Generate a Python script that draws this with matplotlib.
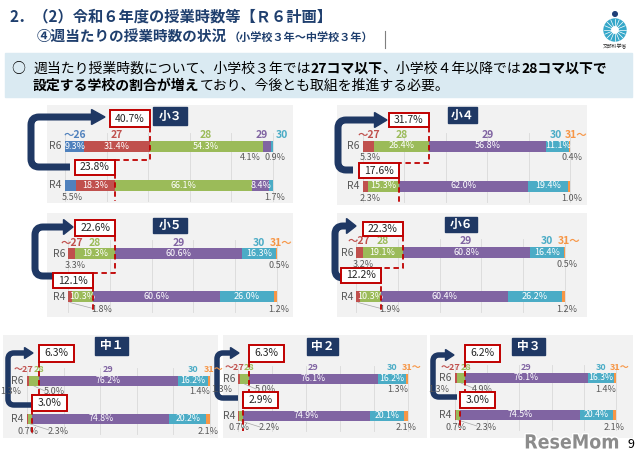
import matplotlib
matplotlib.use('Agg')
import matplotlib.pyplot as plt
from matplotlib.patches import Rectangle, Polygon, Circle, PathPatch
from matplotlib.path import Path
import matplotlib.patheffects as pe
import numpy as np

plt.rcParams['font.family'] = ['Noto Sans CJK JP', 'DejaVu Sans']

W, H = 640, 453

# ---------------- data ----------------
grades = ['小３', '小４', '小５', '小６', '中１', '中２', '中３']
cats_s3 = ['～26', '27', '28', '29', '30']
cats_rest = ['～27', '28', '29', '30', '31～']
years = ['R6', 'R4']
r6_s3 = [9.3, 31.4, 54.3, 4.1, 0.9]
r4_s3 = [5.5, 18.3, 66.1, 8.4, 1.7]
r6_s4 = [5.3, 26.4, 56.8, 11.1, 0.4]
r4_s4 = [2.3, 15.3, 62.0, 19.4, 1.0]
r6_s5 = [3.3, 19.3, 60.6, 16.3, 0.5]
r4_s5 = [1.8, 10.3, 60.6, 26.0, 1.2]
r6_s6 = [3.2, 19.1, 60.8, 16.4, 0.5]
r4_s6 = [1.9, 10.3, 60.4, 26.2, 1.2]
r6_j1 = [1.3, 5.0, 76.2, 16.2, 1.4]
r4_j1 = [0.7, 2.3, 74.8, 20.2, 2.1]
r6_j2 = [1.3, 5.0, 76.1, 16.2, 1.3]
r4_j2 = [0.7, 2.2, 74.9, 20.1, 2.1]
r6_j3 = [1.3, 4.9, 76.1, 16.3, 1.4]
r4_j3 = [0.7, 2.3, 74.5, 20.4, 2.1]

col_s3 = ['#4F81BD', '#C0504D', '#9BBB59', '#8064A2', '#4BACC6']
col_rest = ['#C0504D', '#9BBB59', '#8064A2', '#4BACC6', '#F79646']
NAVY = '#1F3864'
RED = '#C00000'
GRAY = '#595959'

# ---------------- layout (pixels) ----------------
layout = [
    dict(bg=(47, 105, 293, 203), bar=(65, 273), y6=146, y4=185, bh=11, title=(153, 107, 187, 125),
         top=(110, 127), mid=160, arrow=(31, 167, 70, 117, 92, 105), elem=True),
    dict(bg=(337, 105, 587, 205), bar=(363, 570), y6=146, y4=186, bh=11, title=(448, 107, 477, 123),
         top=(113, 127), mid=163, arrow=(338, 170, 353, 120, 375, 387), elem=True),
    dict(bg=(47, 213, 293, 317), bar=(68, 277), y6=254, y4=297, bh=11, title=(153, 218, 187, 233),
         top=(220, 236), mid=273, arrow=(35, 276, 53, 227, 64, 73), elem=True),
    dict(bg=(337, 213, 587, 317), bar=(356, 565), y6=253, y4=297, bh=11, title=(445, 217, 477, 232),
         top=(222, 236), mid=268, arrow=(335, 278, 343, 226, 347, 356), elem=True),
    dict(bg=(3, 335, 218, 438), bar=(27, 210), y6=381, y4=419, bh=10, title=(95, 337, 128, 355),
         top=(345, 362), mid=395, arrow=(8, 405, 32, 353, 25, 33), elem=False),
    dict(bg=(223, 335, 427, 438), bar=(238, 408), y6=379, y4=416, bh=10, title=(307, 338, 338, 355),
         top=(345, 362), mid=392, arrow=(217, 398, 238, 353, 231, 239), elem=False),
    dict(bg=(430, 335, 633, 438), bar=(455, 616), y6=378, y4=415, bh=10, title=(512, 338, 545, 355),
         top=(345, 362), mid=392, arrow=(433, 397, 457, 355, 446, 454), elem=False),
]

series = [(r6_s3, r4_s3), (r6_s4, r4_s4), (r6_s5, r4_s5), (r6_s6, r4_s6),
          (r6_j1, r4_j1), (r6_j2, r4_j2), (r6_j3, r4_j3)]

fig = plt.figure(figsize=(6.4, 4.53), dpi=100)
fig.patch.set_facecolor('white')

ov = fig.add_axes([0, 0, 1, 1], zorder=10)
ov.set_xlim(0, W)
ov.set_ylim(H, 0)
ov.axis('off')
ov.patch.set_alpha(0)

renderer = fig.canvas.get_renderer()


def runs(x, y, parts, size, color='#000000'):
    for txt, bold in parts:
        t = ov.text(x, y, txt, fontsize=size, fontweight='bold' if bold else 'normal',
                    color=color, ha='left', va='center')
        bb = t.get_window_extent(renderer=renderer)
        x += bb.width


# ---------------- header ----------------
HC = '#1F3F6E'
ov.text(10, 16, '2．（2）令和６年度の授業時数等【Ｒ６計画】', fontsize=11, fontweight='bold',
        color=HC, ha='left', va='center')
runs(37, 36, [('④週当たりの授業時数の状況', True)], 10.5, HC)
runs(229, 37, [('（小学校３年～中学校３年）', True)], 8, HC)
ov.plot([385, 385], [31, 48], color='#7F7F7F', lw=0.8)

# logo
ov.add_patch(Circle((615, 30), 11, color='#35A7C9', zorder=2))
for a in np.linspace(0, 2 * np.pi, 16, endpoint=False):
    ov.plot([615 + 3.5 * np.cos(a), 615 + 11 * np.cos(a)], [30 + 3.5 * np.sin(a), 30 + 11 * np.sin(a)],
            color='white', lw=0.5, zorder=3)
ov.add_patch(Circle((615, 30), 3.2, color='white', zorder=4))
ov.add_patch(Circle((615, 14), 2.3, color='#1F3F77', zorder=2))
ov.text(615, 47, '文部科学省', fontsize=3.5, color='#333333', ha='center', va='center')

# callout box
ov.add_patch(Rectangle((5, 53), 627, 44, color='#DAEAF2', zorder=0))
ov.text(18, 69, '○', fontsize=10, ha='center', va='center', color='#000000')
runs(33, 69, [('週当たり授業時数について、小学校３年では', False), ('27コマ以下', True),
              ('、小学校４年以降では', False), ('28コマ以下で', True)], 10)
runs(33, 86, [('設定する学校の割合が増え', True), ('ており、今後とも取組を推進する必要。', False)], 10)


# ---------------- panels ----------------
def draw_arrow(a, elem):
    xv, yb, xe, yt, xh, xt = a
    r = 8 if elem else 6
    lw_px = 7 if elem else 5.5
    hh = 7.5 if elem else 5.5
    verts = [(xe, yb), (xv + r, yb), (xv, yb), (xv, yb - r), (xv, yt + r), (xv, yt), (xv + r, yt), (xh, yt)]
    codes = [Path.MOVETO, Path.LINETO, Path.CURVE3, Path.CURVE3, Path.LINETO, Path.CURVE3, Path.CURVE3,
             Path.LINETO]
    ov.add_patch(PathPatch(Path(verts, codes), fc='none', ec=NAVY, lw=lw_px * 0.72,
                           capstyle='butt', joinstyle='round', zorder=5))
    ov.add_patch(Polygon([(xh - 0.5, yt - hh), (xt, yt), (xh - 0.5, yt + hh)], closed=True,
                         color=NAVY, zorder=5))


for i, L in enumerate(layout):
    r6, r4 = series[i]
    elem = L['elem']
    cats = cats_s3 if i == 0 else cats_rest
    cols = col_s3 if i == 0 else col_rest
    x0, y0, x1, y1 = L['bg']
    bx0, bx1 = L['bar']
    sc = (bx1 - bx0) / 100.0

    def d2px(d):
        return bx0 + d * sc

    ax = fig.add_axes([x0 / W, 1 - y1 / H, (x1 - x0) / W, (y1 - y0) / H], zorder=1)
    ax.set_facecolor('#F2F2F2')
    ax.set_xlim((x0 - bx0) / sc, (x1 - bx0) / sc)
    ax.set_ylim(y1, y0)
    for s in ax.spines.values():
        s.set_visible(False)
    ax.set_xticks([])
    ax.set_yticks([])
    bh = L['bh']
    for g in range(0, 101, 20):
        ax.plot([g, g], [L['y6'] - bh / 2 - 8, L['y4'] + bh / 2 + 10], color='#D9D9D9', lw=0.6, zorder=0)

    fsz_in = 6.5 if elem else 6.3
    for yv, vals, is6 in ((L['y6'], r6, True), (L['y4'], r4, False)):
        lefts = np.concatenate([[0], np.cumsum(vals)[:-1]])
        ax.barh([yv] * len(vals), vals, left=lefts, height=bh, color=cols, edgecolor='none', zorder=2)
        ly = yv + bh / 2 + (6 if is6 else 7)
        for k, (v, lf) in enumerate(zip(vals, lefts)):
            txt = f'{v:.1f}%'
            if v >= 7:
                ax.text(lf + v / 2, yv, txt, color='white', fontsize=fsz_in, ha='center', va='center', zorder=3)
                continue
            segc = d2px(lf + v / 2)
            leader = False
            if k == 0:
                if elem:
                    if v < 2:
                        x = bx0 + 34
                        leader = True
                    else:
                        x = bx0 + 7
                else:
                    x = bx0 - 16 if is6 else bx0 + 1
            elif k == 1:
                x = bx0 + (27 if is6 else 31)
                leader = True
            elif k == 3:
                x = bx1 - 23
            else:
                x = bx1 + 2 if elem else (bx1 - 10 if is6 else bx1 - 2)
            if leader:
                ov.plot([segc, x - 9], [yv + bh / 2, ly - 1], color='#A6A6A6', lw=0.5, zorder=4)
            ov.text(x, ly, txt, color=GRAY, fontsize=6.5, ha='center', va='center', zorder=6)
        ov.text(bx0 - 3, yv, years[0] if is6 else years[1], color=GRAY, fontsize=7.5,
                ha='right', va='center', zorder=6)

    # category labels above R6 bar
    cum6 = np.concatenate([[0], np.cumsum(r6)])
    pos = [d2px(cum6[k] + r6[k] / 2) for k in range(5)]
    pos[4] = max(pos[4], bx1 + 4)
    sep = 20 if elem else 15
    for _ in range(30):
        for k in range(4):
            gap = pos[k + 1] - pos[k]
            if gap < sep:
                dd = (sep - gap) / 2
                pos[k] -= dd
                pos[k + 1] += dd
    cy = L['y6'] - bh / 2 - 6
    for k in range(5):
        ov.text(pos[k], cy, cats[k], color=cols[k], fontsize=7.5 if elem else 6.5, fontweight='bold',
                ha='center', va='center', zorder=6)

    # title box
    tx0, ty0, tx1, ty1 = L['title']
    ov.add_patch(Rectangle((tx0, ty0), tx1 - tx0, ty1 - ty0, color=NAVY, zorder=6))
    ov.text((tx0 + tx1) / 2, (ty0 + ty1) / 2, grades[i], color='white', fontsize=8.5, fontweight='bold',
            ha='center', va='center', zorder=7)

    # cumulative boxes
    s6 = round(sum(r6[:2]), 1)
    s4 = round(sum(r4[:2]), 1)
    b6 = d2px(s6)
    b4 = d2px(s4)
    top0, top1 = L['top']
    mid = L['mid']
    bw = 40 if elem else 35
    bhh = 15 if elem else 16
    tbx = b6 - bw if elem else b6
    bbx = b4 - bw if elem else b4
    ov.plot([b6, b6, b4, b4], [top1, mid, mid, L['y4'] + bh / 2 + 10], color=RED, lw=1.3,
            ls=(0, (3, 2)), zorder=7)
    for bx, by, hh, val in ((tbx, top0, top1 - top0, s6), (bbx, mid, bhh, s4)):
        ov.add_patch(Rectangle((bx, by), bw, hh, fc='white', ec=RED, lw=1.4, zorder=8))
        ov.text(bx + bw / 2, by + hh / 2, f'{val:.1f}%', fontsize=7.5, color='#262626',
                ha='center', va='center', zorder=9)

    draw_arrow(L['arrow'], elem)

# watermark and page number
ov.text(572, 443, 'ReseMom', fontsize=14, fontweight='bold', fontstretch='condensed', color='#8C8C8C',
        family=['DejaVu Sans'], ha='center', va='center', zorder=12,
        path_effects=[pe.withStroke(linewidth=2, foreground='white')])
ov.text(631, 444, '9', fontsize=9, color='#000000', ha='center', va='center', zorder=12)

fig.savefig('out.png', dpi=100, facecolor='white')
